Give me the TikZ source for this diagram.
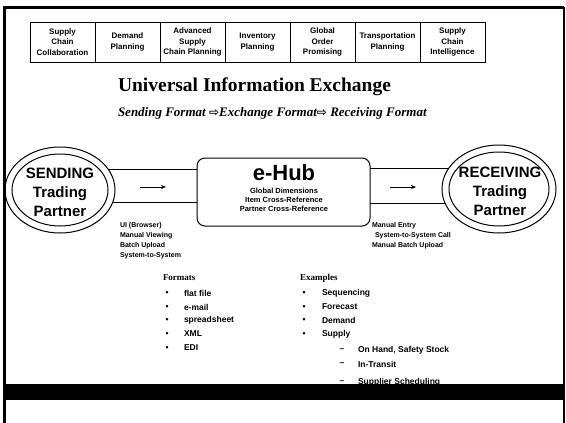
\documentclass[tikz,border=0pt]{standalone}
\usepackage{fontspec}
\setmainfont{Liberation Serif}
\setsansfont{Liberation Sans}
\newfontfamily\symfont{DejaVu Sans}
\usetikzlibrary{shapes.geometric,arrows.meta}
\begin{document}
\begin{tikzpicture}[x=1pt,y=-1pt,
  every node/.style={inner sep=0pt,outer sep=0pt},
  topbox/.style={draw,line width=1pt,minimum width=65pt,minimum height=40pt,anchor=north west,align=center,
    font=\sffamily\bfseries\fontsize{8}{10.5}\selectfont},
  partner/.style={draw,line width=1pt,ellipse},
  bigtext/.style={align=center,font=\sffamily\bfseries\fontsize{15}{19}\selectfont},
  small/.style={anchor=west,align=left,font=\sffamily\bfseries\fontsize{7}{10}\selectfont},
  pipe/.style={line width=0.8pt},
  flow/.style={line width=1pt,-{Stealth[length=5pt,width=4pt]}},
  head/.style={anchor=west,font=\rmfamily\bfseries\fontsize{9}{10}\selectfont},
  listitem/.style={anchor=west,font=\sffamily\bfseries\fontsize{8.5}{10}\selectfont},
  bulletmark/.style={anchor=center,font=\sffamily\bfseries\fontsize{8.5}{10}\selectfont}]
\useasboundingbox (0,0) rectangle (566,423);
\fill[white] (0,0) rectangle (566,423);
% frame
\draw[line width=3pt] (4,423) -- (4,7) -- (564,7);
\draw[line width=1.5pt] (564,7) -- (564,423);
% top row
\node[topbox] (b1) at (30,22) {Supply\\Chain\\Collaboration};
\node[topbox] (b2) at (95,22) {Demand\\Planning};
\node[topbox] (b3) at (160,22) {Advanced\\Supply\\Chain Planning};
\node[topbox] (b4) at (225,22) {Inventory\\Planning};
\node[topbox] (b5) at (290,22) {Global\\Order\\Promising};
\node[topbox] (b6) at (355,22) {Transportation\\Planning};
\node[topbox] (b7) at (420,22) {Supply\\Chain\\Intelligence};
% titles
\node[anchor=west,font=\rmfamily\bfseries\fontsize{19.5}{22}\selectfont] (title) at (118,87) {Universal Information Exchange};
\node[anchor=west,font=\rmfamily\bfseries\itshape\fontsize{13}{14}\selectfont] (sub) at (118,113)
  {Sending Format {\symfont\upshape\fontsize{12}{12}\selectfont ⇨}Exchange Format{\symfont\upshape\fontsize{12}{12}\selectfont ⇨} Receiving Format};
% partners
\node[partner,minimum width=110pt,minimum height=86pt] (send) at (60,190) {};
\node[partner,minimum width=96pt,minimum height=72pt] (sendin) at (60,190) {};
\node[bigtext] (sendt) at (60,192) {SENDING\\Trading\\Partner};
\node[partner,minimum width=114pt,minimum height=88pt] (recv) at (499,189) {};
\node[partner,minimum width=100pt,minimum height=74pt] (recvin) at (499,189) {};
\node[bigtext] (recvt) at (500,191) {RECEIVING\\Trading\\Partner};
% hub
\node[draw,line width=1pt,rounded corners=8pt,minimum width=173pt,minimum height=68pt] (hub) at (283.5,192) {};
\node[font=\sffamily\bfseries\fontsize{22}{24}\selectfont] (hubt) at (284,173) {e-Hub};
\node[align=center,font=\sffamily\bfseries\fontsize{7.5}{9}\selectfont] (hubs) at (284,200)
  {Global Dimensions\\Item Cross-Reference\\Partner Cross-Reference};
% pipes
\draw[pipe] (send.23.6) -- (send.23.6 -| hub.west);
\draw[pipe] (send.-13.9) -- (send.-13.9 -| hub.west);
\draw[pipe] (hub.east |- recv.158.5) -- (recv.158.5);
\draw[pipe] (hub.east |- recv.-165.5) -- (recv.-165.5);
\coordinate (a1s) at (140,187); \coordinate (a1e) at (166,187);
\coordinate (a2s) at (390,187); \coordinate (a2e) at (416,187);
\draw[flow] (a1s) -- (a1e);
\draw[flow] (a2s) -- (a2e);
% labels
\node[small,anchor=north west] (sendl) at (120,222) {UI (Browser)\\Manual Viewing\\Batch Upload\\System-to-System};
\node[small,anchor=north west] (recvl) at (372,222) {Manual Entry\\\hspace*{3pt}System-to-System Call\\Manual Batch Upload};
% formats
\node[head] (fh) at (163,278) {Formats};
\foreach \y/\t [count=\i] in {293/flat file,307/e-mail,320/spreadsheet,334/XML,348/EDI}{
  \node[bulletmark] (fb\i) at (167,\y) {•};
  \node[listitem] (fi\i) at (184,\y) {\t};
}
\node[head] (eh) at (300,278) {Examples};
\foreach \y/\t [count=\i] in {293/Sequencing,307/Forecast,320/Demand,334/Supply}{
  \node[bulletmark] (eb\i) at (304,\y) {•};
  \node[listitem] (ei\i) at (322,\y) {\t};
}
\foreach \y/\t [count=\i] in {350/{On Hand, Safety Stock},364/In-Transit,382/Supplier Scheduling}{
  \node[bulletmark] (sd\i) at (342,\y) {–};
  \node[listitem] (si\i) at (358,\y) {\t};
}
% black bar
\fill (4,384) rectangle (564,400);
\end{tikzpicture}
\end{document}
